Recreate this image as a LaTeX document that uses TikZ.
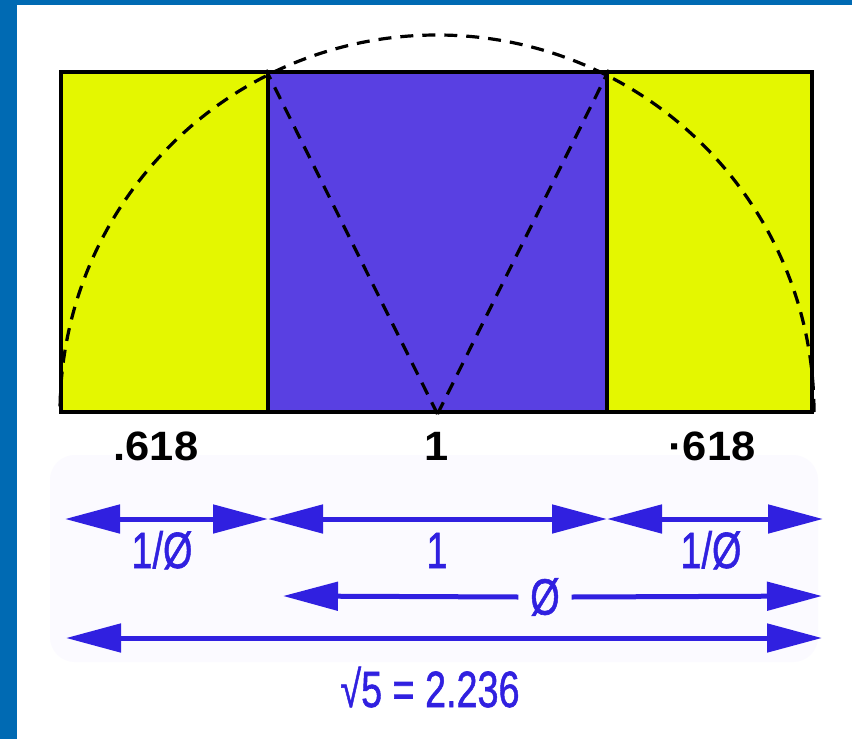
\documentclass[tikz,border=0pt]{standalone}
\usepackage{fontspec}
\setmainfont{Liberation Sans}
\newfontfamily\bluefont[FakeBold=1.2]{Liberation Sans}
\usetikzlibrary{arrows.meta}
\definecolor{frameblue}{RGB}{0,106,179}
\definecolor{goldy}{RGB}{228,247,0}
\definecolor{violet}{RGB}{89,64,226}
\definecolor{inkblue}{RGB}{48,32,224}
\definecolor{haze}{RGB}{251,250,255}
\tikzset{
  panel/.style={draw=black, line width=4pt, inner sep=0pt, minimum height=340pt},
  guide/.style={draw=black, line width=3.2pt, dash pattern=on 13pt off 9pt},
  dimline/.style={draw=inkblue, line width=5pt, arrows={Triangle[length=55pt,width=28pt]-Triangle[length=55pt,width=28pt]}},
  blacklbl/.style={font=\fontsize{41}{42}\selectfont\bfseries, text=black, anchor=base, inner sep=0pt, xscale=1.06},
  bluelbl/.style={font=\bluefont\fontsize{51}{52}\selectfont, text=inkblue, anchor=base, inner sep=0pt, xscale=0.74},
}
\begin{document}
\begin{tikzpicture}[x=1pt,y=-1pt]
\useasboundingbox (0,0) rectangle (852,739);
\fill[white] (0,0) rectangle (852,739);
\fill[frameblue] (0,0) rectangle (852,5);
\fill[frameblue] (0,0) rectangle (17,739);
\fill[haze, rounded corners=25pt] (50,455) rectangle (818,662);
% panels
\node[panel, fill=goldy, minimum width=207pt] (L) at (164.5,242) {};
\node[panel, fill=violet, minimum width=339pt] (M) at (437.5,242) {};
\node[panel, fill=goldy, minimum width=205pt] (R) at (709.5,242) {};
% dashed guides
\coordinate (c) at (437,412);
\begin{scope}
\clip (40,0) rectangle (830,412);
\draw[guide] (c) circle[radius=377pt];
\end{scope}
\draw[guide] (M.south) -- (M.north west);
\draw[guide] (M.south) -- (M.north east);
% black labels
\node[blacklbl] (t1) at (156,460) {.618};
\node[blacklbl] (t2) at (437,460) {1};
\node[blacklbl] (t3) at (712,460) {·618};
% dimension row 1
\coordinate (a0) at (65,519);
\coordinate (a1) at (268,519);
\coordinate (a2) at (607,519);
\coordinate (a3) at (823,519);
\draw[dimline] (a0) -- (a1);
\draw[dimline] (a1) -- (a2);
\draw[dimline] (a2) -- (a3);
\node[bluelbl] (b1) at (162,568) {1/Ø};
\node[bluelbl] (b2) at (437,568) {1};
\node[bluelbl] (b3) at (711,568) {1/Ø};
% phi row
\coordinate (p0) at (283,596);
\coordinate (p1) at (822,596);
\node[bluelbl, anchor=center, inner xsep=16pt] (ph) at (545,597) {Ø};
\draw[dimline, arrows={Triangle[length=55pt,width=28pt]-}] (p0) -- (ph.west);
\draw[dimline, arrows={-Triangle[length=55pt,width=28pt]}] (ph.east) -- (p1);
% sqrt5 row
\coordinate (s0) at (66,638);
\coordinate (s1) at (822,638);
\draw[dimline] (s0) -- (s1);
\node[bluelbl] (sq) at (430,707) {√5 = 2.236};
\end{tikzpicture}
\end{document}
